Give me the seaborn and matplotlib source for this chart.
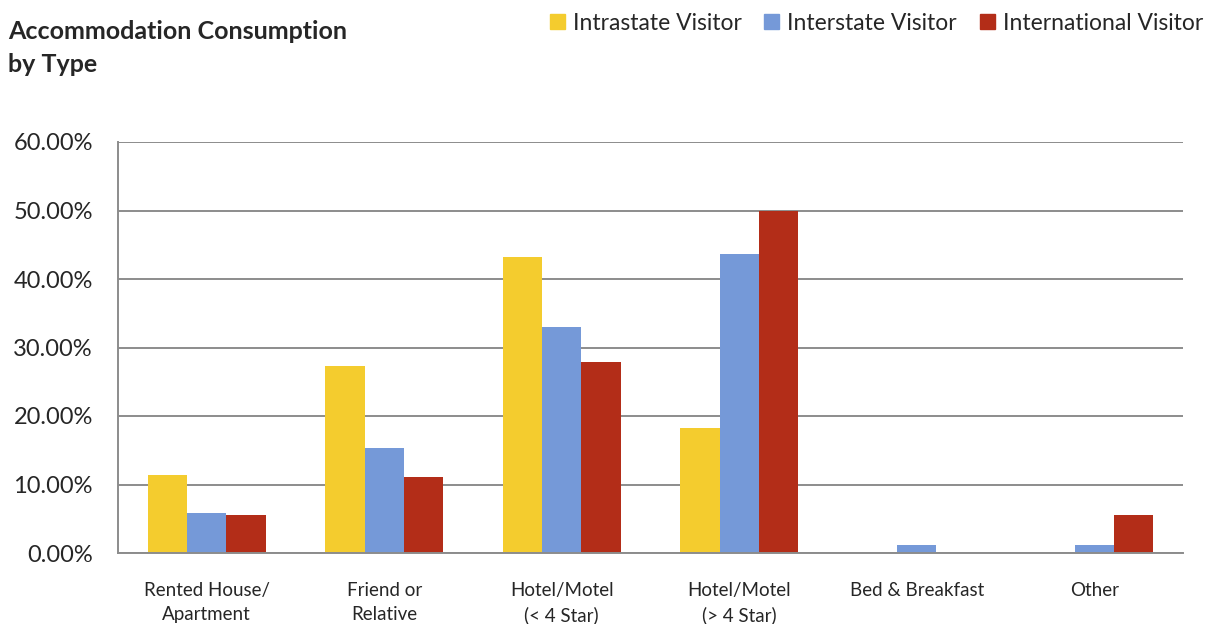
import matplotlib
matplotlib.use("Agg")
import matplotlib.pyplot as plt
import matplotlib.patches as mpatches
from matplotlib.ticker import FuncFormatter, FixedLocator
import seaborn as sns
import pandas as pd

categories = ["Rented House/\nApartment", "Friend or\nRelative", "Hotel/Motel\n(< 4 Star)",
              "Hotel/Motel\n(> 4 Star)", "Bed & Breakfast", "Other"]
series = ["Intrastate Visitor", "Interstate Visitor", "International Visitor"]
intrastate = [11.4, 27.3, 43.2, 18.2, 0.0, 0.0]
interstate = [5.9, 15.3, 33.0, 43.6, 1.2, 1.2]
international = [5.6, 11.1, 27.9, 50.0, 0.0, 5.6]
colors = ["#F4CC2E", "#7599D8", "#B32D18"]
yticks = [0, 10, 20, 30, 40, 50, 60]

rows = []
for name, vals in zip(series, [intrastate, interstate, international]):
    for cat, v in zip(categories, vals):
        rows.append({"Type": cat, "Visitor": name, "Share": v})
df = pd.DataFrame(rows)

sns.set_style("white")
plt.rcParams["font.family"] = ["Lato", "DejaVu Sans"]

fig = plt.figure(figsize=(12.1, 6.24), dpi=100)
ax = fig.add_axes([118 / 1210, 1 - 553 / 624, (1183 - 118) / 1210, (553 - 142) / 624])

sns.barplot(data=df, x="Type", y="Share", hue="Visitor", order=categories,
            hue_order=series, palette=colors, width=0.665, gap=0,
            saturation=1, legend=False, ax=ax, edgecolor="none", linewidth=0)

grid_col = "#8C8C8C"
ax.set_ylim(0, 60)
ax.set_xlim(-0.5, len(categories) - 0.5)
ax.yaxis.set_major_locator(FixedLocator(yticks))
ax.yaxis.set_major_formatter(FuncFormatter(lambda v, p: f"{v:.2f}%"))
ax.yaxis.grid(True, color=grid_col, linewidth=1.4)
ax.set_axisbelow(True)

ax.set_xticks(range(len(categories)))
ax.set_xticklabels(categories, fontsize=13.5, linespacing=1.5)
ax.set_xticks([i - 0.5 for i in range(len(categories) + 1)], minor=True)
ax.tick_params(axis="x", which="major", length=0, pad=21)
ax.tick_params(axis="x", which="minor", length=5, width=1.4, color=grid_col, direction="out")
ax.tick_params(axis="y", length=5, width=1.4, color=grid_col, direction="out",
               labelsize=17, pad=13)
ax.set_xlabel("")
ax.set_ylabel("")

for s in ["top", "right"]:
    ax.spines[s].set_visible(False)
for s in ["left", "bottom"]:
    ax.spines[s].set_color(grid_col)
    ax.spines[s].set_linewidth(1.4)

fig.text(8 / 1210, 1 - 48 / 624, "Accommodation Consumption\nby Type", fontsize=18,
         fontweight="bold", va="center", ha="left", linespacing=1.55)

handles = [mpatches.Patch(color=c, label=s) for c, s in zip(colors, series)]
fig.legend(handles=handles, loc="center right", bbox_to_anchor=(1203 / 1210, 1 - 23 / 624), ncol=3,
           frameon=False, fontsize=16.5, handlelength=0.65, handleheight=0.65,
           handletextpad=0.35, columnspacing=1.0, borderaxespad=0, borderpad=0)

fig.savefig("out.png", dpi=100)
